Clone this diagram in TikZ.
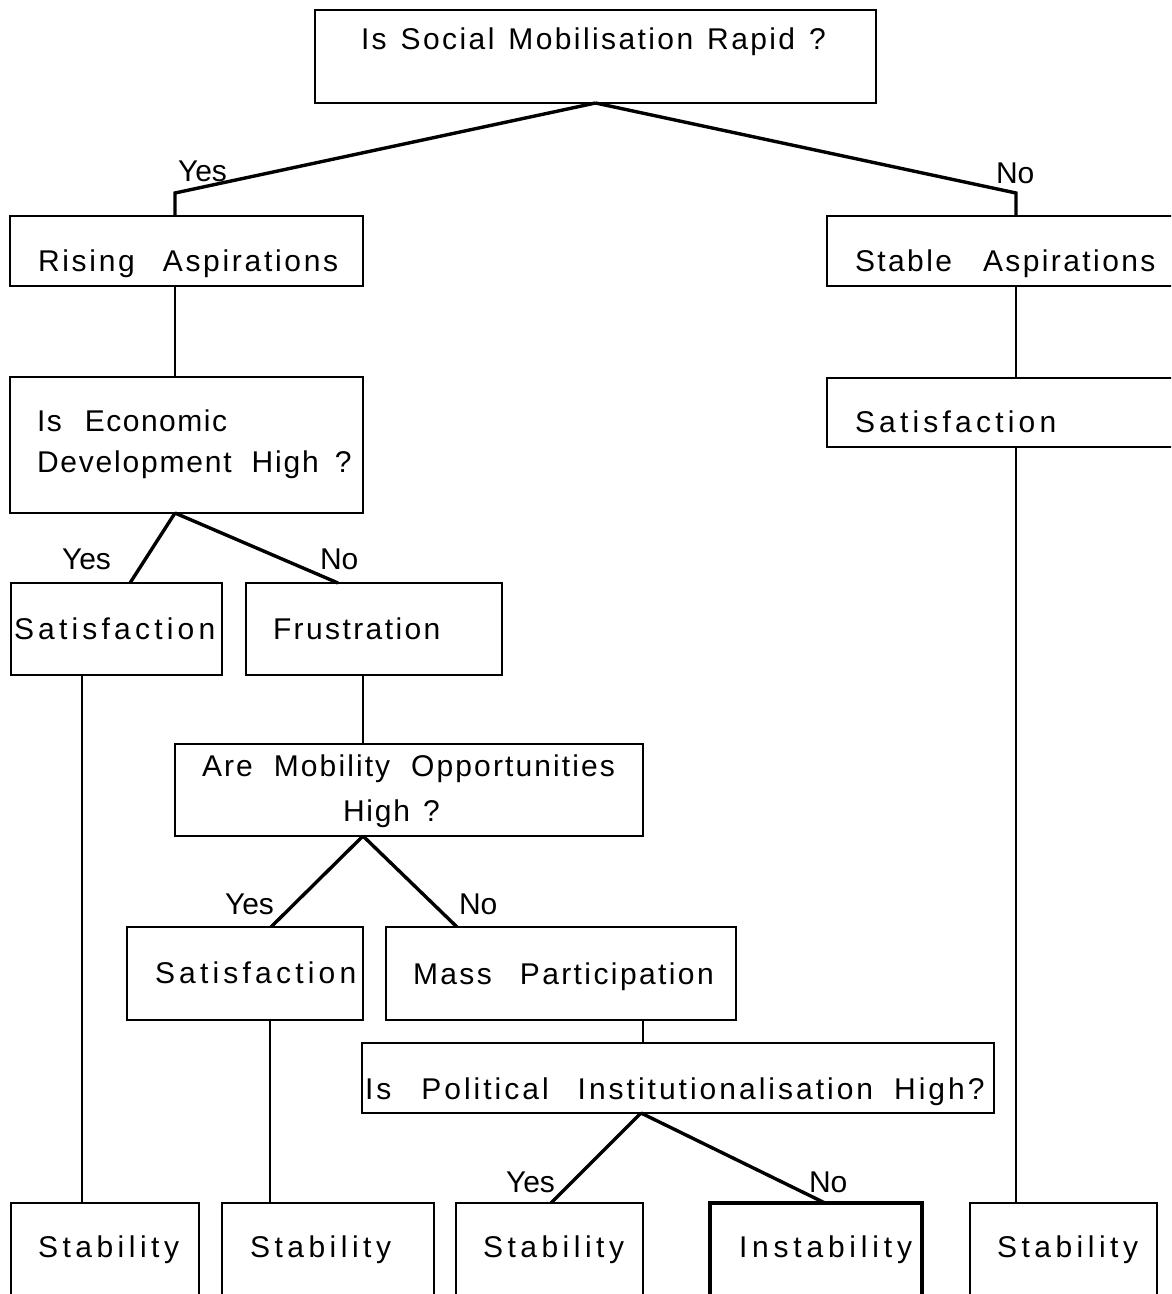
\documentclass[tikz,border=0pt]{standalone}
\usepackage{fontspec}
\setmainfont{Liberation Sans}
\begin{document}
\begin{tikzpicture}[x=1pt,y=-1pt,
  box/.style={draw, line width=2.4pt, inner sep=0pt, outer sep=0pt, anchor=north west},
  thickbox/.style={box, line width=4.8pt},
  conn/.style={line width=3.4pt, line join=miter},
  vconn/.style={line width=2.6pt},
  txt/.style={anchor=base west, inner sep=0pt, outer sep=0pt,
    font=\fontsize{30}{36}\selectfont\addfontfeature{LetterSpace=#1}},
  txt/.default=8,
  lbl/.style={anchor=base west, inner sep=0pt, outer sep=0pt, font=\fontsize{30}{36}\selectfont}]
\useasboundingbox (0,0) rectangle (1171,1294);
\clip (0,0) rectangle (1171,1294);

% boxes
\node[box, minimum width=561pt, minimum height=93pt] (top) at (315,10) {};
\node[box, minimum width=353pt, minimum height=70pt] (ra) at (10,216) {};
\node[box, minimum width=363pt, minimum height=70pt] (sa) at (827,216) {};
\node[box, minimum width=353pt, minimum height=136pt] (econ) at (10,377) {};
\node[box, minimum width=363pt, minimum height=69pt] (satR) at (827,378) {};
\node[box, minimum width=211pt, minimum height=92pt] (satL) at (11,583) {};
\node[box, minimum width=256pt, minimum height=92pt] (frus) at (246,583) {};
\node[box, minimum width=468pt, minimum height=92pt] (mob) at (175,744) {};
\node[box, minimum width=236pt, minimum height=93pt] (sat2) at (127,927) {};
\node[box, minimum width=350pt, minimum height=93pt] (mass) at (386,927) {};
\node[box, minimum width=632pt, minimum height=70pt] (pol) at (362,1043) {};
\node[box, minimum width=188pt, minimum height=110pt] (st1) at (11,1203) {};
\node[box, minimum width=212pt, minimum height=110pt] (st2) at (222,1203) {};
\node[box, minimum width=187pt, minimum height=110pt] (st3) at (456,1203) {};
\node[thickbox, minimum width=212pt, minimum height=110pt] (inst) at (710,1203) {};
\node[box, minimum width=187pt, minimum height=110pt] (st5) at (970,1203) {};

% connectors
\draw[conn] (top.south) -- ([xshift=165pt,yshift=23pt]ra.north west) -- ([xshift=165pt]ra.north west);
\draw[conn] (top.south) -- ([xshift=189pt,yshift=23pt]sa.north west) -- ([xshift=189pt]sa.north west);
\draw[vconn] ([xshift=165pt]ra.south west) -- ([xshift=165pt]econ.north west);
\draw[conn] ([xshift=165pt]econ.south west) -- ([xshift=119pt]satL.north west);
\draw[conn] ([xshift=165pt]econ.south west) -- ([xshift=92pt]frus.north west);
\draw[vconn] ([xshift=189pt]sa.south west) -- ([xshift=189pt]satR.north west);
\draw[vconn] ([xshift=189pt]satR.south west) -- ([xshift=46pt]st5.north west);
\draw[vconn] ([xshift=71pt]satL.south west) -- ([xshift=71pt]st1.north west);
\draw[vconn] ([xshift=117pt]frus.south west) -- ([xshift=188pt]mob.north west);
\draw[conn] ([xshift=188pt]mob.south west) -- ([xshift=144pt]sat2.north west);
\draw[conn] ([xshift=188pt]mob.south west) -- ([xshift=71pt]mass.north west);
\draw[vconn] ([xshift=143pt]sat2.south west) -- ([xshift=48pt]st2.north west);
\draw[vconn] ([xshift=257pt]mass.south west) -- ([xshift=281pt]pol.north west);
\draw[conn] ([xshift=279pt]pol.south west) -- ([xshift=95pt]st3.north west);
\draw[conn] ([xshift=279pt]pol.south west) -- ([xshift=115pt]inst.north west);

% texts
\node[txt=8] (t-top) at (361,49) {Is\hspace{14pt}Social\hspace{14pt}Mobilisation\hspace{14pt}Rapid\hspace{14pt}?};
\node[lbl] (l-y1) at (178,181) {Yes};
\node[lbl] (l-n1) at (996,183) {No};
\node[txt=9] (t-ra) at (38,271) {Rising\hspace{28pt}Aspirations};
\node[txt=8] (t-sa) at (855,271) {Stable\hspace{31pt}Aspirations};
\node[txt=5] (t-e1) at (37,431) {Is\hspace{23pt}Economic};
\node[txt=6] (t-e2) at (37,472) {Development\hspace{20pt}High\hspace{16pt}?};
\node[txt=14] (t-satR) at (855,432) {Satisfaction};
\node[lbl] (l-y2) at (62,569) {Yes};
\node[lbl] (l-n2) at (320,569) {No};
\node[txt=14] (t-satL) at (14,639) {Satisfaction};
\node[txt=8] (t-frus) at (273,639) {Frustration};
\node[txt=7] (t-m1) at (202,776) {Are\hspace{21pt}Mobility\hspace{21pt}Opportunities};
\node[txt=6] (t-m2) at (343,821) {High\hspace{13pt}?};
\node[lbl] (l-y3) at (225,914) {Yes};
\node[lbl] (l-n3) at (459,914) {No};
\node[txt=14] (t-sat2) at (155,983) {Satisfaction};
\node[txt=8] (t-mass) at (413,984) {Mass\hspace{28pt}Participation};
\node[txt=10] (t-pol) at (365,1099) {Is\hspace{30pt}Political\hspace{29pt}Institutionalisation\hspace{21pt}High?};
\node[lbl] (l-y4) at (506,1192) {Yes};
\node[lbl] (l-n4) at (809,1192) {No};
\node[txt=15] (t-s1) at (38,1257) {Stability};
\node[txt=15] (t-s2) at (250,1257) {Stability};
\node[txt=15] (t-s3) at (483,1257) {Stability};
\node[txt=16] (t-inst) at (739,1257) {Instability};
\node[txt=15] (t-s5) at (997,1257) {Stability};
\end{tikzpicture}
\end{document}
